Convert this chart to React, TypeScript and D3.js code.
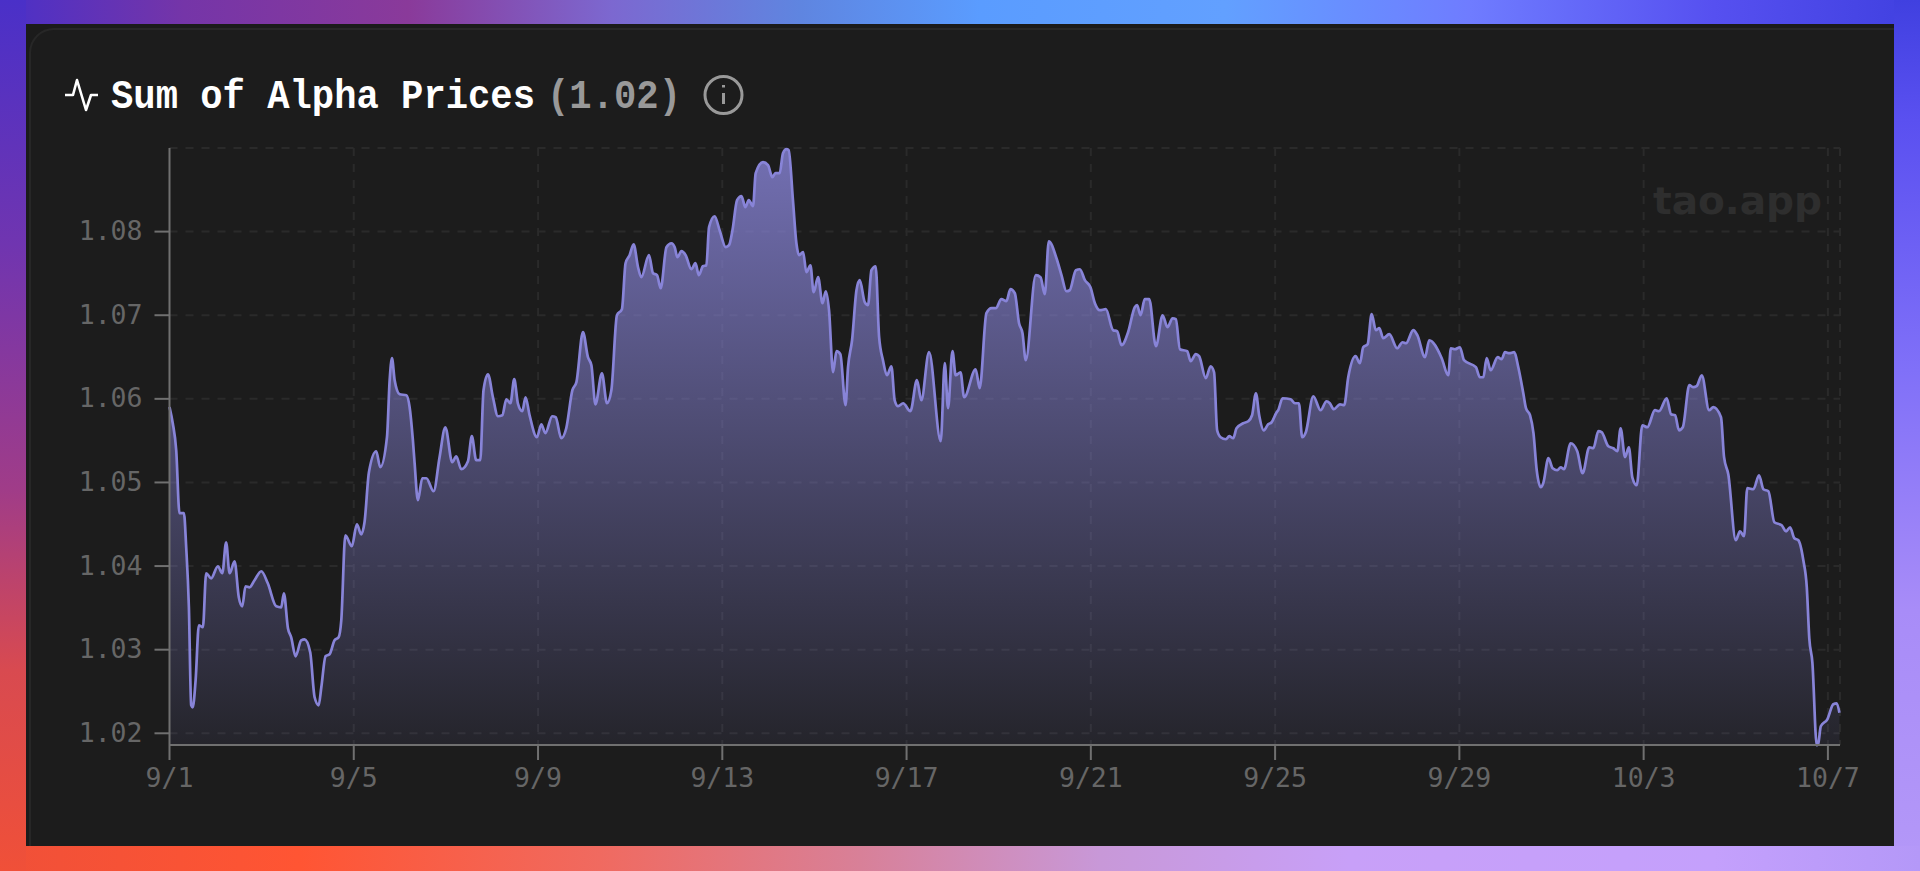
import * as d3 from "d3";
import { useEffect, useRef } from "react";

// hours since 9/1 00:00
const hours = [
  0, 1.7, 3.5, 5.2, 7.5, 8.7, 10.1, 11.3, 12.1, 13.6, 15.3, 17.4, 19.1, 21.7, 25.2, 27.5, 29.5, 31.3, 33.9, 36.1,
  37.9, 39.6, 41.7, 44.3, 47.8, 51.2, 55.6, 58.2, 59.6, 61.7, 63.4, 65.7, 68.6, 70.4, 73.3, 75.6, 77.7, 79.1, 81.3, 83.4,
  86, 88.1, 89.5, 91.6, 95, 97.6, 99.9, 101.6, 103.9, 107.7, 109.8, 113.3, 114.7, 115.9, 117.3, 119.9, 123.4, 125.1, 126.8, 127.7,
  129.4, 131.7, 133.8, 137.6, 140.7, 143.7, 147.3, 149.4, 152, 155.5, 157.5, 159.8, 161.9, 163.6, 165.9, 168.5, 171.1, 173.4, 175.5, 177.6,
  179.6, 181.5, 183.8, 185.5, 187.6, 191.4, 193.7, 195.8, 199.4, 201.2, 204.1, 206.7, 209.9, 212, 215.4, 218, 219.8, 221.9, 225.3, 227.9,
  230.2, 233.1, 235.7, 237.6, 239.7, 241.8, 244.1, 245.8, 249.8, 251.9, 254, 255.9, 258.9, 261.5, 263.2, 264.6, 266.7, 268.9, 271.9, 274,
  275.8, 277.9, 279.7, 281.1, 284, 286.6, 289.8, 291.5, 293.3, 295.7, 298, 300, 301.8, 304, 305.4, 309.2, 311.8, 314.1, 315.7, 317.9,
  319.6, 321.4, 322.6, 324.8, 326.6, 328, 330.1, 331.8, 333.9, 335.6, 337.9, 340.2, 341.9, 343.6, 345.7, 347.5, 349.5, 352.2, 353.5, 355.6,
  357.9, 359.6, 362.2, 363.9, 365.7, 367.9, 369.7, 371.7, 373.8, 376.1, 377.8, 379.6, 382.2, 386, 389.4, 391.7, 395.7, 401.8, 403.9, 405.6,
  407.9, 409.6, 412.1, 414, 420, 422.1, 425.6, 428.3, 430.5, 433.4, 436, 438.1, 440.4, 442.6, 444.4, 446.1, 451.3, 453.8, 456, 458.1,
  462.1, 464.7, 467.3, 469, 472.2, 474.3, 476.9, 479.8, 482.1, 484.7, 487.8, 491.6, 493.7, 496, 499.4, 502.9, 504.1, 505.9, 508.1, 510.4,
  513.9, 517.4, 519.9, 522.6, 524.3, 526.4, 530.2, 532, 534.7, 536.4, 539.9, 542.4, 544.2, 545.8, 547.6, 550.4, 552.1, 554.2, 555.9, 559.4,
  562, 564, 566, 567.7, 570.1, 572.4, 574.2, 576.8, 577.6, 579.9, 584.1, 586.3, 588.4, 590.1, 592, 595.9, 599.7, 602.8, 604.5, 606.6,
  609.8, 612, 614.1, 617.9, 620.2, 621.9, 624.2, 626.3, 628.5, 630.3, 632.3, 635.5, 639.6, 642.4, 644.2, 648, 650.1, 654.1, 656.3, 662.8,
  666.2, 667.6, 669.7, 672.3, 674.4, 680.6, 682.7, 684.5, 686.2, 688.3, 692, 694, 695.8, 698, 700.6, 702.7, 705.3, 706.7, 708.8, 710.6,
  712.3, 714.4, 715.7, 718.4, 720.6, 723, 724.8, 726.5, 730, 733.4, 736.2, 739.7, 741.8, 744.4, 746.1, 749.6, 752.2, 754.3, 756, 758.3,
  760.3, 762.1, 764.4, 767.3, 769.9, 773.9, 776, 780, 782.3, 784.4, 786.4, 788.4, 791.8, 793.9, 795.6, 798.3, 802.1, 804.3, 808.3, 809.9,
  812.1, 816, 818.2, 820.3, 822, 825.2, 828.1, 830.4, 833, 836.1, 839.9, 842.2, 844.3, 846.5, 848.6, 851.2, 853, 854.3, 855.9, 858.2,
  859, 860.3, 863.7, 866.8, 868.6, 870,
];

const prices = [
  1.05903, 1.05708, 1.05385, 1.04632, 1.04632, 1.04225, 1.03507, 1.02335, 1.02311, 1.02634, 1.03292, 1.03268, 1.03914, 1.03854, 1.03998, 1.03914, 1.04285, 1.03914, 1.04057, 1.03627,
  1.03519, 1.03758, 1.03746, 1.0383, 1.03938, 1.03794, 1.03519, 1.03507, 1.03675, 1.03256, 1.03148, 1.02921, 1.03112, 1.03124, 1.02969, 1.02431, 1.02335, 1.0255, 1.02921, 1.02945,
  1.03112, 1.03148, 1.03352, 1.04368, 1.04237, 1.045, 1.0438, 1.04524, 1.05122, 1.05373, 1.05182, 1.05541, 1.06223, 1.06486, 1.06223, 1.06055, 1.06043, 1.059, 1.05505, 1.0523,
  1.04787, 1.0505, 1.0505, 1.04895, 1.05302, 1.0566, 1.05242, 1.05313, 1.05158, 1.05254, 1.05553, 1.05266, 1.05266, 1.06103, 1.06294, 1.06019, 1.05792, 1.05804, 1.05995, 1.05947,
  1.06235, 1.05947, 1.05852, 1.06019, 1.05804, 1.05541, 1.05696, 1.05589, 1.05792, 1.0578, 1.05529, 1.05648, 1.06103, 1.06199, 1.06797, 1.06498, 1.06402, 1.05935, 1.06306, 1.05947,
  1.06103, 1.07, 1.07072, 1.07622, 1.07718, 1.07849, 1.07574, 1.07455, 1.07718, 1.07503, 1.07479, 1.07323, 1.07814, 1.07861, 1.07814, 1.07694, 1.07766, 1.07718, 1.0755, 1.07622,
  1.07479, 1.07586, 1.07598, 1.08053, 1.08184, 1.08017, 1.07814, 1.07837, 1.08017, 1.08376, 1.08424, 1.08292, 1.08376, 1.08304, 1.08699, 1.0883, 1.08794, 1.08651, 1.08699, 1.08699,
  1.08938, 1.08986, 1.08974, 1.08376, 1.07861, 1.07718, 1.07754, 1.07514, 1.07598, 1.07275, 1.07455, 1.07144, 1.07287, 1.0706, 1.06318, 1.0657, 1.06534, 1.05924, 1.06378, 1.06701,
  1.07299, 1.07419, 1.07156, 1.0712, 1.07538, 1.07586, 1.06737, 1.06462, 1.06282, 1.0639, 1.05983, 1.05912, 1.05947, 1.05852, 1.06223, 1.05983, 1.06558, 1.05493, 1.06426, 1.05888,
  1.0657, 1.06282, 1.06318, 1.06019, 1.06354, 1.06127, 1.07024, 1.07084, 1.07084, 1.07192, 1.07168, 1.07311, 1.07263, 1.06904, 1.06785, 1.06462, 1.07479, 1.07455, 1.07251, 1.07885,
  1.07682, 1.07479, 1.07287, 1.07299, 1.07538, 1.0755, 1.07419, 1.07335, 1.07144, 1.0706, 1.07072, 1.06821, 1.06809, 1.06641, 1.06797, 1.07096, 1.0712, 1.07, 1.07192, 1.07192,
  1.06629, 1.07, 1.06857, 1.06964, 1.06952, 1.06593, 1.0657, 1.0645, 1.06534, 1.0651, 1.06247, 1.0639, 1.06318, 1.05624, 1.05541, 1.05517, 1.05553, 1.05529, 1.05648, 1.05708,
  1.05732, 1.05804, 1.06067, 1.05804, 1.05624, 1.05696, 1.0572, 1.0584, 1.05864, 1.06007, 1.05995, 1.05947, 1.05947, 1.05541, 1.05601, 1.06031, 1.05864, 1.05971, 1.05947, 1.05876,
  1.05935, 1.05924, 1.06258, 1.0651, 1.06426, 1.06617, 1.06653, 1.07012, 1.06821, 1.06845, 1.06725, 1.06773, 1.06605, 1.06677, 1.06665, 1.06821, 1.06761, 1.06498, 1.06701, 1.06486,
  1.06282, 1.06605, 1.06593, 1.06617, 1.06462, 1.06378, 1.06258, 1.06258, 1.06486, 1.06342, 1.06498, 1.06474, 1.06558, 1.06546, 1.06558, 1.06378, 1.06067, 1.05888, 1.05804, 1.05589,
  1.05146, 1.04943, 1.04991, 1.0529, 1.0517, 1.05146, 1.05182, 1.05158, 1.05469, 1.05373, 1.0511, 1.05421, 1.05409, 1.05613, 1.05601, 1.05433, 1.05409, 1.05373, 1.05648, 1.05302,
  1.05421, 1.05062, 1.04967, 1.05684, 1.0566, 1.05864, 1.05852, 1.06007, 1.05816, 1.05804, 1.05624, 1.0566, 1.06163, 1.06139, 1.06151, 1.06282, 1.05864, 1.059, 1.0578, 1.05302,
  1.05098, 1.04309, 1.04416, 1.04357, 1.04931, 1.04919, 1.05086, 1.04919, 1.04895, 1.04524, 1.04488, 1.04416, 1.04464, 1.04333, 1.04309, 1.04069, 1.03746, 1.03136, 1.02849, 1.01856,
  1.0188, 1.02084, 1.02167, 1.02347, 1.02359, 1.02245,
];

const xTickHours = [0, 96, 192, 288, 384, 480, 576, 672, 768, 864];
const xTickLabels = ["9/1", "9/5", "9/9", "9/13", "9/17", "9/21", "9/25", "9/29", "10/3", "10/7"];
const yTicks = [1.02, 1.03, 1.04, 1.05, 1.06, 1.07, 1.08];

const topStops: [number, string][] = [[0, "#4a30c8"], [184, "#7535a8"], [408, "#8a3a9a"], [612, "#7c68d0"], [800, "#5f85e0"], [980, "#5a9cff"], [1225, "#62a0ff"], [1470, "#6f7cff"], [1714, "#5650f0"], [1920, "#4040e0"]];
const leftStops: [number, string][] = [[0, "#4a30c8"], [245, "#7035b0"], [490, "#a03c88"], [670, "#d84a50"], [871, "#f05038"]];
const bottomStops: [number, string][] = [[0, "#f05038"], [300, "#ff5533"], [600, "#f06a60"], [860, "#d88098"], [1100, "#c898d8"], [1350, "#c8a0f8"], [1714, "#c4a0fc"], [1920, "#b498f8"]];
const rightStops: [number, string][] = [[0, "#4040e0"], [120, "#5a50f0"], [370, "#8070f8"], [610, "#a88cf8"], [871, "#b498f8"]];

const MONO = "'DejaVu Sans Mono', monospace";
const TITLE = "'Liberation Mono', monospace";

export default function App() {
  const svgRef = useRef<SVGSVGElement>(null);
  const width = 1920;
  const height = 871;
  const plot = { left: 169.5, right: 1840, top: 148, bottom: 745 };

  useEffect(() => {
    document.body.style.margin = "0";
    const svg = d3.select(svgRef.current);
    svg.selectAll("*").remove();

    const toDate = (h: number) => new Date(Date.UTC(2025, 8, 1) + h * 3600e3);
    const data = hours.map((h, i) => ({ date: toDate(h), value: prices[i] }));

    const x = d3.scaleUtc().domain([toDate(0), toDate(870.3)]).range([plot.left, plot.right]);
    const y = d3.scaleLinear().domain([1.0186, 1.09]).range([plot.bottom, plot.top]);

    const defs = svg.append("defs");
    const strip = (id: string, stops: [number, string][], vertical: boolean) => {
      const g = defs
        .append("linearGradient")
        .attr("id", id)
        .attr("gradientUnits", "userSpaceOnUse")
        .attr("x1", 0)
        .attr("y1", 0)
        .attr("x2", vertical ? 0 : width)
        .attr("y2", vertical ? height : 0);
      stops.forEach(([p, c]) => g.append("stop").attr("offset", p / (vertical ? height : width)).attr("stop-color", c));
    };
    strip("bgTop", topStops, false);
    strip("bgLeft", leftStops, true);
    strip("bgBottom", bottomStops, false);
    strip("bgRight", rightStops, true);

    const fade = defs
      .append("linearGradient")
      .attr("id", "priceFill")
      .attr("x1", 0)
      .attr("y1", 0)
      .attr("x2", 0)
      .attr("y2", 1);
    fade.append("stop").attr("offset", 0).attr("stop-color", "#8884d8").attr("stop-opacity", 0.8);
    fade.append("stop").attr("offset", 1).attr("stop-color", "#8884d8").attr("stop-opacity", 0.08);

    // frame
    svg.append("rect").attr("width", width).attr("height", height).attr("fill", "#1b1b1b");
    svg.append("rect").attr("width", width).attr("height", 24).attr("fill", "url(#bgTop)");

    // card
    svg
      .append("rect")
      .attr("x", 30)
      .attr("y", 29)
      .attr("width", 1900)
      .attr("height", 900)
      .attr("rx", 24)
      .attr("fill", "#1c1c1c")
      .attr("stroke", "#272727")
      .attr("stroke-width", 2);
    svg.append("rect").attr("x", 1894).attr("width", 26).attr("height", height).attr("fill", "url(#bgRight)");
    svg.append("rect").attr("y", 846).attr("width", width).attr("height", 25).attr("fill", "url(#bgBottom)");
    svg.append("rect").attr("width", 26).attr("height", height).attr("fill", "url(#bgLeft)");

    // header
    const icon = d3.line();
    svg
      .append("path")
      .attr("d", icon([[65, 95], [73, 95], [77, 80], [86, 110], [91, 95], [98, 95]]))
      .attr("fill", "none")
      .attr("stroke", "#fff")
      .attr("stroke-width", 2.6)
      .attr("stroke-linejoin", "round");
    svg
      .append("text")
      .attr("transform", "translate(111, 108) scale(1, 1.08)")
      .attr("font-family", TITLE)
      .attr("font-weight", 700)
      .attr("font-size", 37)
      .attr("textLength", 424)
      .attr("lengthAdjust", "spacingAndGlyphs")
      .attr("fill", "#fff")
      .text("Sum of Alpha Prices");
    svg
      .append("text")
      .attr("transform", "translate(547, 108) scale(1, 1.08)")
      .attr("font-family", TITLE)
      .attr("font-weight", 700)
      .attr("font-size", 37)
      .attr("textLength", 134)
      .attr("lengthAdjust", "spacingAndGlyphs")
      .attr("fill", "#999")
      .text("(1.02)");
    const info = svg.append("g").attr("fill", "none").attr("stroke", "#999").attr("stroke-width", 3);
    info.append("circle").attr("cx", 723.5).attr("cy", 95).attr("r", 18.5);
    info.append("line").attr("x1", 723.5).attr("x2", 723.5).attr("y1", 93).attr("y2", 104);
    info.append("line").attr("x1", 723.5).attr("x2", 723.5).attr("y1", 85).attr("y2", 87.5);

    // grid
    const grid = svg
      .append("g")
      .attr("stroke", "#2a2a2a")
      .attr("stroke-width", 2)
      .attr("stroke-dasharray", "8 8");
    [...yTicks, 1.09].forEach((v) => {
      grid.append("line").attr("x1", plot.left).attr("x2", plot.right).attr("y1", y(v)).attr("y2", y(v));
    });
    [...xTickHours.slice(1).map((h) => x(toDate(h))), plot.right].forEach((px) => {
      grid.append("line").attr("x1", px).attr("x2", px).attr("y1", plot.top).attr("y2", plot.bottom);
    });

    svg
      .append("text")
      .attr("x", 1653)
      .attr("y", 214)
      .attr("font-family", "'DejaVu Sans', sans-serif")
      .attr("font-weight", 700)
      .attr("font-size", 38)
      .attr("textLength", 169)
      .attr("lengthAdjust", "spacingAndGlyphs")
      .attr("fill", "#2e2e2e")
      .text("tao.app");

    // series
    const area = d3
      .area<{ date: Date; value: number }>()
      .x((d) => x(d.date))
      .y0(plot.bottom)
      .y1((d) => y(d.value))
      .curve(d3.curveMonotoneX);
    const line = d3
      .line<{ date: Date; value: number }>()
      .x((d) => x(d.date))
      .y((d) => y(d.value))
      .curve(d3.curveMonotoneX);
    svg.append("path").attr("d", area(data)).attr("fill", "url(#priceFill)");
    svg
      .append("path")
      .attr("d", line(data))
      .attr("fill", "none")
      .attr("stroke", "#8884d8")
      .attr("stroke-width", 2.7);

    // axes
    const xAxis = svg
      .append("g")
      .attr("transform", `translate(0, ${plot.bottom})`)
      .call(
        d3
          .axisBottom(x)
          .tickValues(xTickHours.map(toDate))
          .tickFormat((_, i) => xTickLabels[i])
          .tickSize(15)
          .tickSizeOuter(0)
          .tickPadding(8)
          .offset(0)
      );
    const yAxis = svg
      .append("g")
      .attr("transform", `translate(${plot.left}, 0)`)
      .call(
        d3
          .axisLeft(y)
          .tickValues(yTicks)
          .tickFormat((d) => d3.format(".2f")(d as number))
          .tickSize(15)
          .tickSizeOuter(0)
          .tickPadding(12)
          .offset(0)
      );
    [xAxis, yAxis].forEach((g) => {
      g.selectAll("path, line").attr("stroke", "#707070").attr("stroke-width", 2);
      g.selectAll("text").attr("font-family", MONO).attr("font-size", 26.5).attr("fill", "#666");
    });
  }, []);

  return (
    <svg
      ref={svgRef}
      width={width}
      height={height}
      style={{ position: "absolute", left: 0, top: 0, display: "block" }}
    ></svg>
  );
}
